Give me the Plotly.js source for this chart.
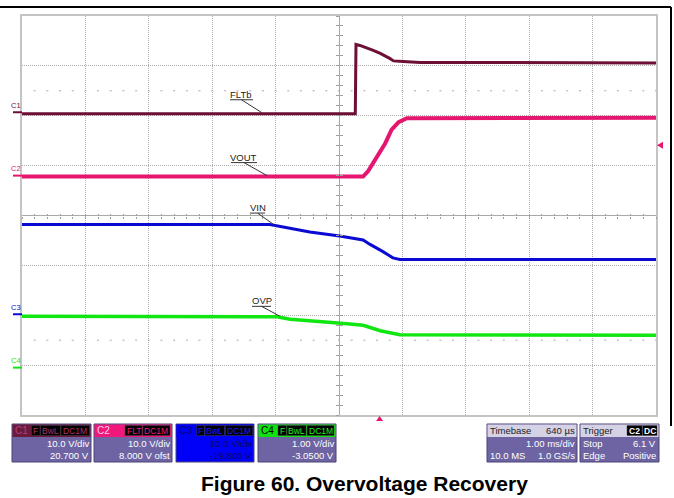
<!DOCTYPE html>
<html><head><meta charset="utf-8">
<script src="https://cdn.plot.ly/plotly-3.0.1.min.js"></script>
<style>html,body{margin:0;padding:0;background:#fff}#chart{width:674px;height:498px}</style>
</head><body><div id="chart"></div>
<script>
// ---------------- data (read from the scope capture) ----------------
const fltbTimeMs = [-5.64, -0.383, -0.372, -0.31, -0.10, 0.01, 0.16, 0.22, 0.37, 0.64, 4.36];
const fltbVolts  = [-0.3, -0.3, 13.6, 13.4, 12.4, 11.8, 10.8, 10.3, 10.2, 10.0, 9.9];
const voutTimeMs = [-5.64, -0.26, -0.18, -0.05, 0.09, 0.19, 0.30, 0.43, 4.36];
const voutVolts  = [-0.2, -0.2, 0.9, 3.5, 6.5, 9.2, 10.7, 11.5, 11.6];
const vinTimeMs  = [-5.64, -1.73, -1.10, -0.63, -0.26, -0.15, 0.06, 0.21, 0.32, 4.36];
const vinVolts   = [18.0, 18.0, 16.5, 15.7, 14.9, 14.0, 12.5, 11.3, 11.0, 11.0];
const ovpTimeMs  = [-5.64, -1.62, -1.41, -0.83, -0.51, -0.26, 0.01, 0.32, 4.36];
const ovpVolts   = [1.03, 1.02, 0.97, 0.92, 0.88, 0.85, 0.74, 0.66, 0.65];

const channelNames   = ['C1', 'C2', 'C3', 'C4'];
const signalNames    = ['FLTb', 'VOUT', 'VIN', 'OVP'];
const voltsPerDiv    = [10, 10, 10, 1];
const offsetVolts    = [20.7, 8.0, -19.8, -3.05];
const scaleLabels    = ['10.0 V/div', '10.0 V/div', '10.0 V/div', '1.00 V/div'];
const offsetLabels   = ['20.700 V', '8.000 V ofst', '-19.800 V', '-3.0500 V'];
const timePerDivMs   = 1.0;
const triggerDelayMs = 0.64;
const triggerLevelV  = 6.1;
const captionText    = 'Figure 60. Overvoltage Recovery';

// ---------------- layout helpers ----------------
const W = 674, H = 498, L = 22, R = 18, T = 16, B = 83;
const PW = W - L - R, PH = H - T - B;
const px = x => (x - L) / PW;
const py = y => (H - B - y) / PH;
const FONT = 'Liberation Sans, Arial, sans-serif';

const colors = ['#6d0f36', '#e6156f', '#0a0ad2', '#12e612'];
const widths = [3, 4, 3, 3.5];
const times = [fltbTimeMs, voutTimeMs, vinTimeMs, ovpTimeMs];
const volts = [fltbVolts, voutVolts, vinVolts, ovpVolts];

const traces = times.map((t, i) => ({
  type: 'scatter', mode: 'lines', x: t, y: volts[i],
  xaxis: 'x2', yaxis: 'y' + (i + 2),
  line: {color: colors[i], width: widths[i]}, hoverinfo: 'skip'
}));

const tStart = -5 * timePerDivMs - triggerDelayMs;
const layout = {
  width: W, height: H, margin: {l: L, r: R, t: T, b: B, pad: 0},
  paper_bgcolor: '#fff', plot_bgcolor: '#fff', showlegend: false,
  xaxis: {range: [-5, 5], dtick: 1, tick0: 0, showgrid: true, gridcolor: '#b0b0b0', griddash: '1px,1px',
          gridwidth: 1, zeroline: true, zerolinecolor: '#a8a8a8', zerolinewidth: 1,
          showline: true, mirror: true, linecolor: '#c4c4c4', linewidth: 2, ticks: '', showticklabels: false, fixedrange: true},
  yaxis: {range: [-4, 4], dtick: 1, tick0: 0, showgrid: true, gridcolor: '#b0b0b0', griddash: '1px,1px',
          gridwidth: 1, zeroline: true, zerolinecolor: '#a8a8a8', zerolinewidth: 1,
          showline: true, mirror: true, linecolor: '#c4c4c4', linewidth: 2, ticks: '', showticklabels: false, fixedrange: true},
  xaxis2: {overlaying: 'x', range: [tStart, tStart + 10 * timePerDivMs], visible: false, fixedrange: true},
  shapes: [], annotations: []
};
for (let i = 0; i < 4; i++) {
  const s = voltsPerDiv[i], o = offsetVolts[i];
  layout['yaxis' + (i + 2)] = {overlaying: 'y', range: [-4 * s - o, 4 * s - o], visible: false, fixedrange: true};
}
// centre-line minor ticks
const tickAx = (side) => ({overlaying: 'x', anchor: 'free', position: 0.5, range: [-5, 5], dtick: 0.2, tick0: 0,
  ticks: side, ticklen: 2, tickwidth: 1, tickcolor: '#a0a0a0', showgrid: false, zeroline: false,
  showline: false, showticklabels: false, fixedrange: true});
layout.xaxis3 = tickAx('outside');
layout.xaxis4 = tickAx('inside');
const tickAy = (side) => ({overlaying: 'y', anchor: 'free', position: 0.5, range: [-4, 4], dtick: 0.2, tick0: 0,
  ticks: side, ticklen: 3, tickwidth: 1, tickcolor: '#a0a0a0', showgrid: false, zeroline: false,
  showline: false, showticklabels: false, fixedrange: true});
layout.yaxis6 = tickAy('outside');
layout.yaxis7 = tickAy('inside');
// dummy traces so the tick axes render
traces.push({type: 'scatter', x: [0], y: [0], xaxis: 'x3', yaxis: 'y6', mode: 'none', hoverinfo: 'skip'});
traces.push({type: 'scatter', x: [0], y: [0], xaxis: 'x4', yaxis: 'y7', mode: 'none', hoverinfo: 'skip'});

const S = layout.shapes, A = layout.annotations;
// rows of short marks at +/-2.5 div
[2.5, -2.5].forEach(d => S.push({type: 'line', xref: 'paper', yref: 'y', x0: px(L + PW / 50 - 1), x1: 1, y0: d, y1: d,
  line: {color: '#a8a8a8', width: 1, dash: '2px,' + (PW / 50 - 2).toFixed(2) + 'px'}}));

// outer frame
S.push({type: 'line', xref: 'paper', yref: 'paper', x0: px(0), x1: px(671), y0: py(7), y1: py(7), line: {color: '#000', width: 2}});
S.push({type: 'line', xref: 'paper', yref: 'paper', x0: px(671), x1: px(671), y0: py(7), y1: py(426), line: {color: '#000', width: 2}});

// ground markers on the left
for (let i = 0; i < 4; i++) {
  const yr = 'y' + (i + 2);
  S.push({type: 'line', xref: 'paper', yref: yr, x0: px(13), x1: px(22), y0: 0, y1: 0, line: {color: colors[i], width: 2}});
  A.push({xref: 'paper', yref: yr, x: px(15.5), y: 0, yshift: 7, text: channelNames[i], showarrow: false,
    font: {family: FONT, size: 7.5, color: colors[i]}, xanchor: 'center', yanchor: 'middle'});
}

// signal name call-outs (tip on trace, offsets in pixels)
const callouts = [
  {ch: 0, t: -1.855, ul: [-32, -9, 14], tx: -21, ty: 19},
  {ch: 1, t: -1.776, ul: [-36, -10, 14], tx: -23, ty: 19},
  {ch: 2, t: -1.68, ul: [-23, -8, 12], tx: -15.5, ty: 18},
  {ch: 3, t: -1.57, ul: [-28, -9, 11], tx: -18.5, ty: 17}
];
callouts.forEach(c => {
  const yr = 'y' + (c.ch + 2);
  const tt = times[c.ch], vv = volts[c.ch];
  let v = vv[0];
  for (let k = 0; k < tt.length - 1; k++) if (c.t >= tt[k] && c.t <= tt[k + 1]) {
    v = vv[k] + (vv[k + 1] - vv[k]) * (c.t - tt[k]) / (tt[k + 1] - tt[k]);
  }
  S.push({type: 'line', xref: 'x2', yref: yr, xsizemode: 'pixel', ysizemode: 'pixel', xanchor: c.t, yanchor: v,
    x0: c.ul[0], x1: c.ul[1], y0: c.ul[2], y1: c.ul[2], line: {color: '#333', width: 1}});
  S.push({type: 'line', xref: 'x2', yref: yr, xsizemode: 'pixel', ysizemode: 'pixel', xanchor: c.t, yanchor: v,
    x0: (c.ul[0] + c.ul[1]) / 2, x1: 0, y0: c.ul[2], y1: 1, line: {color: '#333', width: 1}});
  A.push({xref: 'x2', yref: yr, x: c.t, y: v, xshift: c.tx, yshift: c.ty, text: signalNames[c.ch], showarrow: false,
    font: {family: FONT, size: 9.5, color: '#222'}, xanchor: 'center', yanchor: 'middle'});
});

// trigger markers
S.push({type: 'path', xref: 'paper', yref: 'y3', xsizemode: 'pixel', ysizemode: 'pixel', xanchor: 1, yanchor: triggerLevelV,
  path: 'M1,0 L7,3.5 L7,-3.5 Z', fillcolor: colors[1], line: {width: 0}});
S.push({type: 'path', xref: 'x2', yref: 'paper', xsizemode: 'pixel', ysizemode: 'pixel', xanchor: 0, yanchor: 0,
  path: 'M0,-1 L-3.5,-6 L3.5,-6 Z', fillcolor: colors[1], line: {width: 0}});

// ---------------- info panels ----------------
const rect = (x0, x1, y0, y1, fill, line) => S.push({type: 'rect', xref: 'paper', yref: 'paper',
  x0: px(x0), x1: px(x1), y0: py(y1), y1: py(y0), fillcolor: fill, line: {color: line || fill, width: line ? 1 : 0}});
const txt = (x, y, s, anchor, color, size, bold) => A.push({xref: 'paper', yref: 'paper', x: px(x), y: py(y),
  text: bold ? '<b>' + s + '</b>' : s, showarrow: false, xanchor: anchor, yanchor: 'middle', borderpad: 0,
  font: {family: FONT, size: size || 9.5, color: color}});

const BODY = '#6e64a3', EDGE = '#4c4578';
const chPanels = [
  {x0: 12, x1: 91, head: '#6b1a3c', nameCol: '#b8407a', boxCol: '#b03068', body: BODY, txtCol: '#fff',
   boxes: [['F', 31.5, 40], ['BwL', 40.5, 60.5], ['DC1M', 61, 89.5]]},
  {x0: 94, x1: 172, head: '#f0187a', nameCol: '#ffd0e6', boxCol: '#f0187a', body: BODY, txtCol: '#fff',
   boxes: [['FLT', 125, 142], ['DC1M', 142.7, 170]]},
  {x0: 176, x1: 254, head: '#0000f8', nameCol: '#00007a', boxCol: '#1a1aff', body: '#0000f8', txtCol: '#0a0a5a',
   boxes: [['F', 196.7, 204.5], ['BwL', 205, 224.5], ['DC1M', 225.5, 252.7]]},
  {x0: 258, x1: 336, head: '#10e010', nameCol: '#000', boxCol: '#20f020', body: BODY, txtCol: '#fff',
   boxes: [['F', 278, 286.5], ['BwL', 287, 306], ['DC1M', 307, 334]]}
];
const PT = 424, PH1 = 437, PB = 462;
chPanels.forEach((p, i) => {
  rect(p.x0, p.x1, PT, PB, p.body, EDGE);
  rect(p.x0 + 0.5, p.x1 - 0.5, PT + 0.5, PH1, p.head);
  txt(p.x0 + 2, 430.5, channelNames[i], 'left', p.nameCol, 10);
  p.boxes.forEach(b => {
    S.push({type: 'rect', xref: 'paper', yref: 'paper', x0: px(b[1]), x1: px(b[2]), y0: py(435.5), y1: py(425.5),
      fillcolor: '#000', line: {color: '#444', width: 0.5}});
    txt((b[1] + b[2]) / 2, 430.8, b[0], 'center', p.boxCol, 8.5);
  });
  txt(p.x1 - 1.5, 443.5, scaleLabels[i], 'right', p.txtCol, 9.5);
  txt(p.x1 - 1.5, 455.5, offsetLabels[i], 'right', p.txtCol, 9.5);
});

// timebase panel
rect(487, 577, PT, PB, BODY, EDGE);
rect(487.5, 576.5, PT + 0.5, PH1, '#d6d2e6');
txt(489, 430.5, 'Timebase', 'left', '#222', 9.5);
txt(576, 430.5, (triggerDelayMs * 1000).toFixed(0) + ' µs', 'right', '#222', 9.5);
txt(576, 443.5, timePerDivMs.toFixed(2) + ' ms/div', 'right', '#fff', 9.5);
txt(489, 455.5, '10.0 MS', 'left', '#fff', 9.5);
txt(576, 455.5, '1.0 GS/s', 'right', '#fff', 9.5);
// trigger panel
rect(580, 659, PT, PB, BODY, EDGE);
rect(580.5, 658.5, PT + 0.5, PH1, '#d6d2e6');
txt(582, 430.5, 'Trigger', 'left', '#222', 9.5);
[['C2', 627, 642], ['DC', 642.5, 657]].forEach(b => {
  S.push({type: 'rect', xref: 'paper', yref: 'paper', x0: px(b[1]), x1: px(b[2]), y0: py(435.5), y1: py(425.5),
    fillcolor: '#000', line: {color: '#444', width: 0.5}});
  txt((b[1] + b[2]) / 2, 430.8, b[0], 'center', '#fff', 8.5, true);
});
txt(582, 443.5, 'Stop', 'left', '#fff', 9.5);
txt(657, 443.5, triggerLevelV.toFixed(1) + ' V', 'right', '#fff', 9.5);
txt(582, 455.5, 'Edge', 'left', '#fff', 9.5);
txt(657, 455.5, 'Positive', 'right', '#fff', 9.5);

// caption
A.push({xref: 'paper', yref: 'paper', x: px(364), y: py(483), text: '<b>' + captionText + '</b>', showarrow: false,
  xanchor: 'center', yanchor: 'middle', font: {family: FONT, size: 21, color: '#000'}});

Plotly.newPlot('chart', traces, layout, {staticPlot: true, displayModeBar: false});
</script></body></html>
